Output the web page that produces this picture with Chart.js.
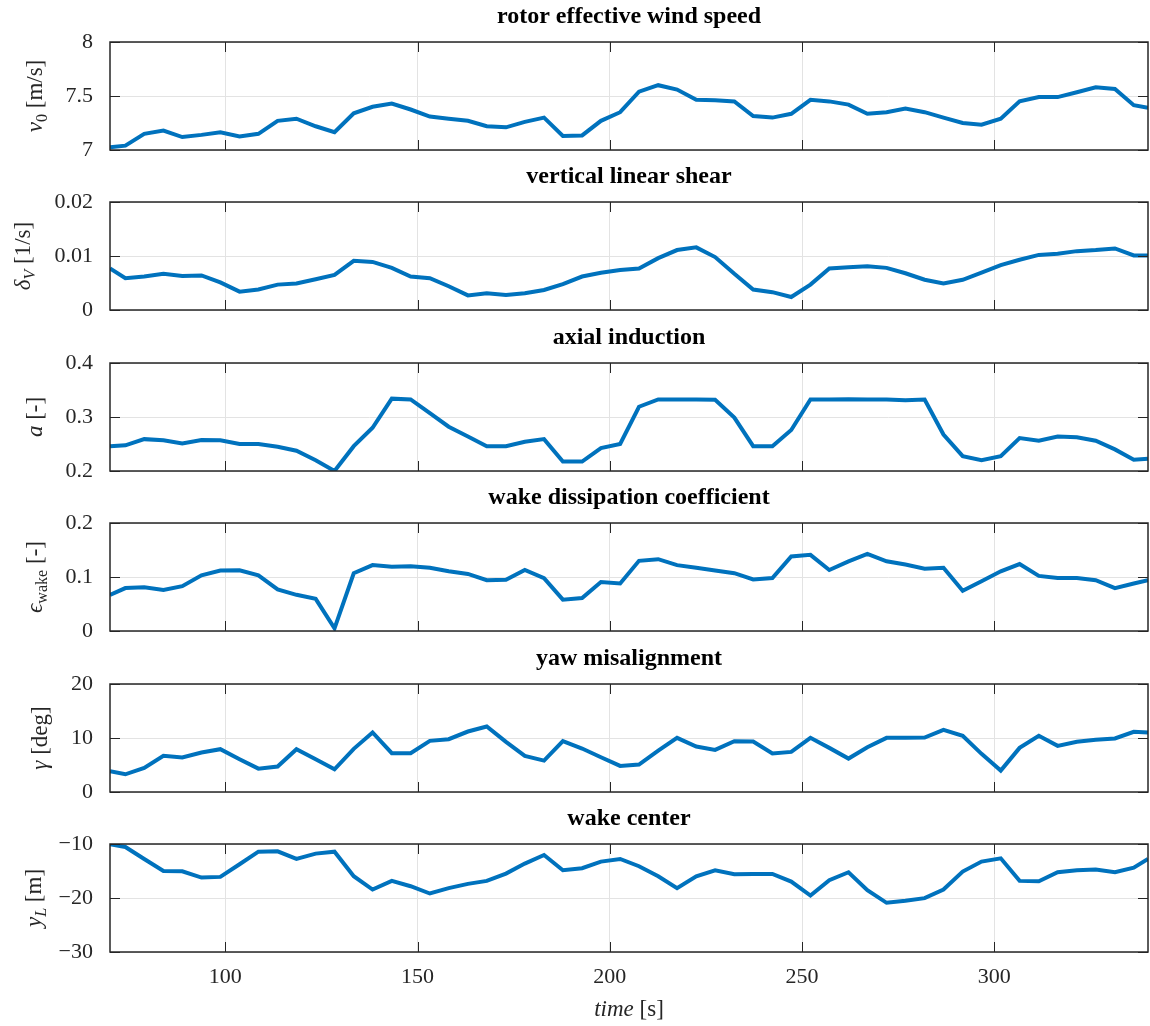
<!DOCTYPE html>
<html>
<head>
<meta charset="utf-8">
<script src="https://cdn.jsdelivr.net/npm/chart.js@4.4.1/dist/chart.umd.min.js"></script>
<style>
    html, body { margin: 0; padding: 0; background: #fff; }
    #wrap { position: relative; width: 1150px; height: 1026px; overflow: hidden; }
    #wrap canvas { position: absolute; left: 0; }
</style>
</head>
<body>
<div id="wrap"></div>
<script>
// sample times [s] (first/last are the values at the axis limits)
const time = [70, 74.0, 78.9, 83.9, 88.8, 93.8, 98.7, 103.7, 108.6, 113.6, 118.5,
    123.5, 128.4, 133.4, 138.3, 143.3, 148.2, 153.2, 158.1, 163.1, 168.0,
    173.0, 177.9, 182.9, 187.8, 192.8, 197.7, 202.7, 207.6, 212.6, 217.5,
    222.5, 227.4, 232.4, 237.3, 242.3, 247.2, 252.2, 257.1, 262.1, 267.0,
    272.0, 276.9, 281.9, 286.8, 291.8, 296.7, 301.7, 306.6, 311.6, 316.5,
    321.5, 326.4, 331.4, 336.3, 340];

const windSpeed = [7.025, 7.04, 7.15, 7.18, 7.12, 7.14, 7.165, 7.125, 7.15, 7.27, 7.29,
    7.22, 7.165, 7.34, 7.40, 7.43, 7.375, 7.31, 7.29, 7.27, 7.22,
    7.21, 7.26, 7.30, 7.13, 7.135, 7.27, 7.35, 7.54, 7.60, 7.56,
    7.465, 7.46, 7.45, 7.315, 7.30, 7.335, 7.465, 7.45, 7.42, 7.335,
    7.35, 7.385, 7.35, 7.30, 7.25, 7.235, 7.29, 7.45, 7.49, 7.49,
    7.535, 7.58, 7.565, 7.415, 7.39];

const verticalShear = [0.0077, 0.0059, 0.0062, 0.0067, 0.0063, 0.0064, 0.0051, 0.0034, 0.0038, 0.0047, 0.0049,
    0.0057, 0.0065, 0.0091, 0.0089, 0.0078, 0.0062, 0.0059, 0.0044, 0.0027, 0.0031,
    0.0028, 0.0031, 0.0037, 0.0048, 0.0062, 0.0069, 0.0074, 0.0077, 0.0096, 0.0111,
    0.0116, 0.0098, 0.0067, 0.0038, 0.0033, 0.0024, 0.0047, 0.0077, 0.0079, 0.0081,
    0.0078, 0.0068, 0.0056, 0.0049, 0.0056, 0.0069, 0.0083, 0.0093, 0.0102, 0.0104,
    0.0109, 0.0111, 0.0114, 0.0101, 0.0101];

const axialInduction = [0.2456, 0.2475, 0.259, 0.257, 0.251, 0.2575, 0.257, 0.25, 0.25, 0.245, 0.2375,
    0.22, 0.2, 0.246, 0.28, 0.334, 0.3325, 0.307, 0.282, 0.264, 0.246,
    0.246, 0.254, 0.259, 0.2175, 0.2175, 0.2425, 0.25, 0.319, 0.3325, 0.3325,
    0.3325, 0.332, 0.299, 0.246, 0.246, 0.276, 0.3325, 0.3325, 0.333, 0.3325,
    0.3325, 0.331, 0.3325, 0.2675, 0.2275, 0.22, 0.2275, 0.261, 0.256, 0.264,
    0.2625, 0.256, 0.24, 0.221, 0.2225];

const wakeDissipation = [0.067, 0.0795, 0.081, 0.076, 0.083, 0.103, 0.112, 0.1125, 0.103, 0.077, 0.067,
    0.0596, 0.005, 0.107, 0.122, 0.119, 0.12, 0.117, 0.1105, 0.1056, 0.094,
    0.095, 0.113, 0.098, 0.058, 0.061, 0.0907, 0.088, 0.130, 0.133, 0.122,
    0.117, 0.112, 0.107, 0.0956, 0.098, 0.138, 0.141, 0.113, 0.129, 0.143,
    0.129, 0.123, 0.1155, 0.117, 0.0745, 0.092, 0.1106, 0.124, 0.102, 0.098,
    0.098, 0.094, 0.0795, 0.088, 0.094];

const yawMisalignment = [3.84, 3.28, 4.46, 6.69, 6.38, 7.31, 7.93, 6.07, 4.33, 4.71, 7.93,
    6.07, 4.21, 7.99, 11.02, 7.18, 7.18, 9.47, 9.78, 11.2, 12.14,
    9.29, 6.69, 5.82, 9.41, 8.05, 6.44, 4.83, 5.08, 7.68, 10.03,
    8.42, 7.80, 9.41, 9.35, 7.12, 7.43, 10.03, 8.17, 6.19, 8.30,
    10.03, 10.03, 10.09, 11.52, 10.40, 7.06, 3.96, 8.17, 10.40, 8.54,
    9.29, 9.66, 9.91, 11.15, 11.02];

const wakeCenter = [-10.06, -10.55, -12.77, -14.98, -15.05, -16.22, -16.09, -13.75, -11.42, -11.35, -12.77,
    -11.78, -11.42, -15.97, -18.43, -16.83, -17.82, -19.17, -18.18, -17.38, -16.83,
    -15.48, -13.63, -12.03, -14.86, -14.49, -13.26, -12.77, -14.12, -15.97, -18.18,
    -15.97, -14.86, -15.60, -15.54, -15.54, -16.95, -19.54, -16.71, -15.23, -18.55,
    -20.89, -20.52, -20.03, -18.43, -15.11, -13.26, -12.65, -16.83, -16.89, -15.23,
    -14.86, -14.74, -15.23, -14.37, -12.77];

// tick labels
const timeTicks = [100, 150, 200, 250, 300];
const speedTicks = [7, 7.5, 8];
const shearTicks = [0, 0.01, 0.02];
const inductionTicks = [0.2, 0.3, 0.4];
const dissipationTicks = [0, 0.1, 0.2];
const yawTicks = [0, 10, 20];
const centerTicks = [-30, -20, -10];

const TICK_COLOR = '#262626';
const LINE_COLOR = '#0072BD';
const GRID_COLOR = '#e3e3e3';
const SERIF = '"Liberation Serif", "Times New Roman", serif';

const panels = [
    { title: 'rotor effective wind speed', values: windSpeed, ticks: speedTicks, labelX: 42,
      label: [{ t: 'v', it: true }, { t: '0', sub: true }, { t: ' [m/s]' }] },
    { title: 'vertical linear shear', values: verticalShear, ticks: shearTicks, labelX: 30,
      label: [{ t: 'δ', it: true }, { t: 'V', it: true, sub: true }, { t: ' [1/s]' }] },
    { title: 'axial induction', values: axialInduction, ticks: inductionTicks, labelX: 42,
      label: [{ t: 'a', it: true }, { t: ' [-]' }] },
    { title: 'wake dissipation coefficient', values: wakeDissipation, ticks: dissipationTicks, labelX: 42,
      label: [{ t: 'ϵ', it: true }, { t: 'wake', sub: true }, { t: ' [-]' }] },
    { title: 'yaw misalignment', values: yawMisalignment, ticks: yawTicks, labelX: 47,
      label: [{ t: 'γ', it: true }, { t: ' [deg]' }] },
    { title: 'wake center', values: wakeCenter, ticks: centerTicks, labelX: 41,
      label: [{ t: 'y', it: true }, { t: 'L', it: true, sub: true }, { t: ' [m]' }] }
];

const canvasTops = [0, 160, 321, 481, 642, 802];

// draw mixed italic / subscript text, centred on 0 along the baseline
const drawMath = (ctx, parts, size) => {
    const fonts = parts.map(p => (p.it ? 'italic ' : '') + (p.sub ? size * 0.7 : size) + 'px ' + SERIF);
    const widths = parts.map((p, i) => { ctx.font = fonts[i]; return ctx.measureText(p.t).width; });
    let x = -widths.reduce((a, b) => a + b, 0) / 2;
    parts.forEach((p, i) => {
        ctx.font = fonts[i];
        ctx.fillText(p.t, x, p.sub ? size * 0.22 : 0);
        x += widths[i];
    });
};

// MATLAB-like box, inward ticks, title and labels
const matlabAxes = {
    id: 'matlabAxes',
    afterDatasetsDraw(chart, args, opts) {
        const { ctx, chartArea: a, scales: { x, y } } = chart;
        const len = 10;
        ctx.save();
        ctx.strokeStyle = TICK_COLOR;
        ctx.lineWidth = 1;
        ctx.beginPath();
        x.ticks.forEach(t => {
            const px = Math.round(x.getPixelForValue(t.value)) + 0.5;
            ctx.moveTo(px, a.top); ctx.lineTo(px, a.top + len);
            ctx.moveTo(px, a.bottom); ctx.lineTo(px, a.bottom - len);
        });
        y.ticks.forEach(t => {
            const py = Math.round(y.getPixelForValue(t.value)) + 0.5;
            ctx.moveTo(a.left, py); ctx.lineTo(a.left + len, py);
            ctx.moveTo(a.right, py); ctx.lineTo(a.right - len, py);
        });
        ctx.stroke();
        ctx.lineWidth = 1.5;
        ctx.strokeRect(a.left, a.top, a.right - a.left, a.bottom - a.top);

        // title
        ctx.fillStyle = '#000';
        ctx.textAlign = 'left';
        ctx.textBaseline = 'alphabetic';
        ctx.font = 'bold 24px ' + SERIF;
        const tw = ctx.measureText(opts.title).width;
        ctx.fillText(opts.title, (a.left + a.right) / 2 - tw / 2, a.top - 19);

        // y label
        ctx.fillStyle = TICK_COLOR;
        ctx.save();
        ctx.translate(opts.labelX, (a.top + a.bottom) / 2);
        ctx.rotate(-Math.PI / 2);
        drawMath(ctx, opts.label, 23);
        ctx.restore();

        // x label on the bottom panel only
        if (opts.xlabel) {
            ctx.save();
            ctx.translate((a.left + a.right) / 2, a.bottom + 64);
            drawMath(ctx, [{ t: 'time', it: true }, { t: ' [s]' }], 23);
            ctx.restore();
        }
        ctx.restore();
    }
};

const wrap = document.getElementById('wrap');

panels.forEach((p, i) => {
    const last = i === panels.length - 1;
    const canvas = document.createElement('canvas');
    canvas.width = 1150;
    canvas.height = last ? 224 : 192;
    canvas.style.top = canvasTops[i] + 'px';
    wrap.appendChild(canvas);

    new Chart(canvas, {
        type: 'line',
        data: {
            datasets: [{
                data: time.map((t, k) => ({ x: t, y: p.values[k] })),
                borderColor: LINE_COLOR,
                borderWidth: 4,
                pointRadius: 0,
                tension: 0,
                fill: false
            }]
        },
        options: {
            responsive: false,
            animation: false,
            devicePixelRatio: 1,
            layout: { padding: { top: 42, left: 0, right: 2, bottom: last ? 0 : 42 } },
            plugins: {
                legend: { display: false },
                tooltip: { enabled: false },
                matlabAxes: { title: p.title, label: p.label, labelX: p.labelX, xlabel: last }
            },
            scales: {
                x: {
                    type: 'linear',
                    min: 70,
                    max: 340,
                    afterBuildTicks: s => { s.ticks = timeTicks.map(v => ({ value: v })); },
                    afterFit: s => { s.height = last ? 74 : 0; },
                    grid: { color: GRID_COLOR, lineWidth: 1, drawTicks: false },
                    border: { display: false },
                    ticks: {
                        display: last,
                        autoSkip: false,
                        maxRotation: 0,
                        padding: 12,
                        color: TICK_COLOR,
                        font: { family: SERIF, size: 22 }
                    }
                },
                y: {
                    type: 'linear',
                    min: p.ticks[0],
                    max: p.ticks[p.ticks.length - 1],
                    afterBuildTicks: s => { s.ticks = p.ticks.map(v => ({ value: v })); },
                    afterFit: s => { s.width = 110; },
                    grid: { color: GRID_COLOR, lineWidth: 1, drawTicks: false },
                    border: { display: false },
                    ticks: {
                        autoSkip: false,
                        padding: 17,
                        color: TICK_COLOR,
                        font: { family: SERIF, size: 22 },
                        callback: v => String(v).replace('-', '\u2212')
                    }
                }
            }
        },
        plugins: [matlabAxes]
    });
});
</script>
</body>
</html>
